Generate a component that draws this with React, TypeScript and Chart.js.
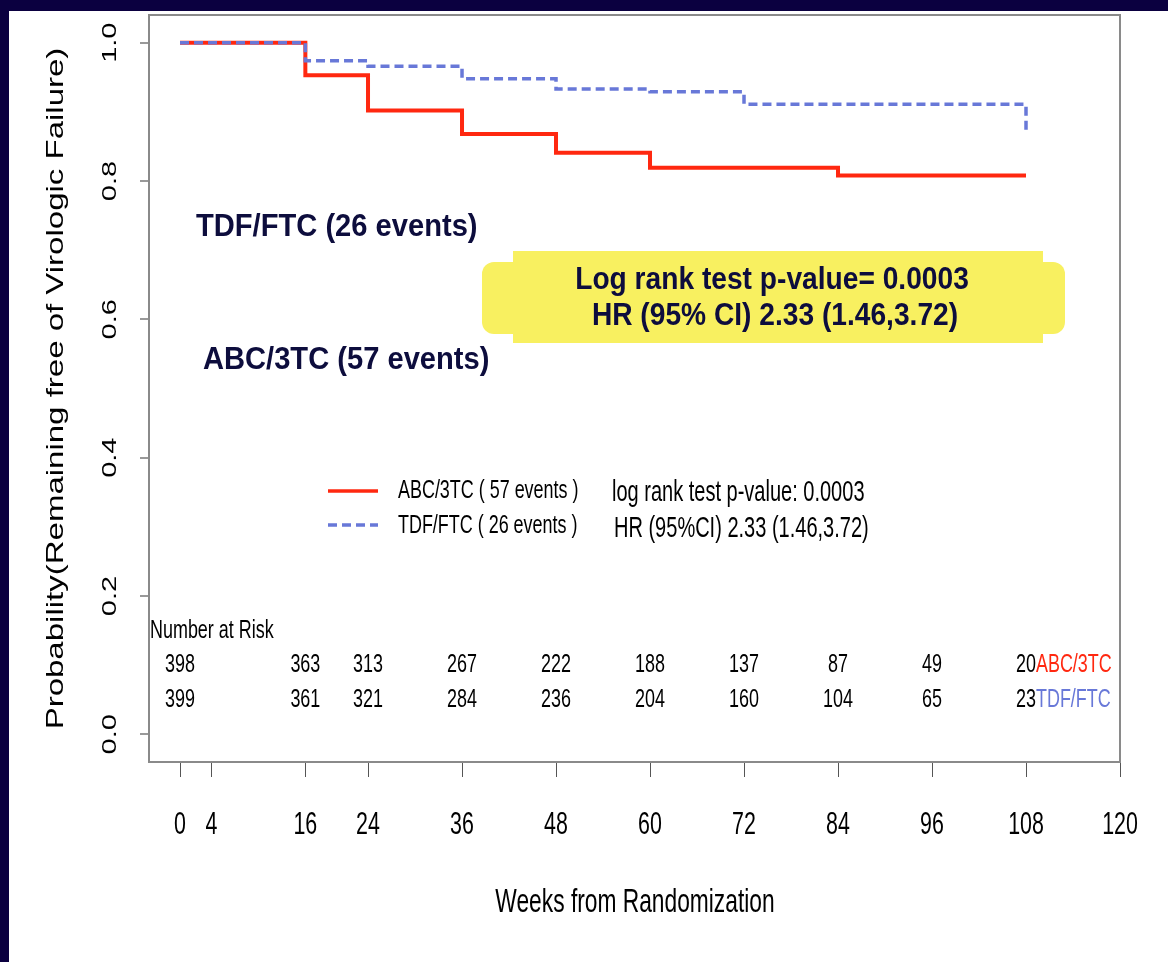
import React, { useEffect, useRef } from "react";
import { Chart, registerables } from "chart.js";
Chart.register(...registerables);

// ---- data ----
const X_TICKS = [0, 4, 16, 24, 36, 48, 60, 72, 84, 96, 108, 120];
const Y_TICKS = [0, 0.2, 0.4, 0.6, 0.8, 1.0];
const Y_TICK_LABELS = ["0.0", "0.2", "0.4", "0.6", "0.8", "1.0"];

const ABC_WEEKS = [0, 16, 24, 36, 48, 60, 84, 108];
const ABC_SURV = [1.0, 0.953, 0.902, 0.868, 0.841, 0.819, 0.808, 0.808];
const TDF_WEEKS = [0, 16, 24, 36, 48, 60, 72, 108];
const TDF_SURV = [1.0, 0.974, 0.966, 0.948, 0.933, 0.929, 0.911, 0.87];

const RISK_WEEKS = [0, 16, 24, 36, 48, 60, 72, 84, 96, 108];
const RISK_ABC = [398, 363, 313, 267, 222, 188, 137, 87, 49, 20];
const RISK_TDF = [399, 361, 321, 284, 236, 204, 160, 104, 65, 23];

const RED = "#ff2810";
const BLUE = "#6878d8";
const NAVY = "#0b0040";
const INK = "#0d0d3d";
const SX = 0.69;
const FONT = '"Liberation Sans", Arial, Helvetica, sans-serif';

type TOpt = { size: number; sx?: number; align?: CanvasTextAlign; color?: string; bold?: boolean; rot?: boolean };
function txt(ctx: CanvasRenderingContext2D, s: string, x: number, y: number, o: TOpt) {
  ctx.save();
  ctx.translate(x, y);
  ctx.scale(o.sx ?? 1, 1);
  if (o.rot) ctx.rotate(-Math.PI / 2);
  ctx.font = `${o.bold ? "bold " : ""}${o.size}px ${FONT}`;
  ctx.fillStyle = o.color ?? "#000";
  ctx.textAlign = o.align ?? "left";
  ctx.textBaseline = "middle";
  ctx.fillText(s, 0, 0);
  ctx.restore();
}
function measure(ctx: CanvasRenderingContext2D, s: string, size: number, bold = false) {
  ctx.save();
  ctx.font = `${bold ? "bold " : ""}${size}px ${FONT}`;
  const w = ctx.measureText(s).width;
  ctx.restore();
  return w;
}

const framePlugin = {
  id: "frame",
  beforeDraw(chart: any) {
    const ctx = chart.ctx as CanvasRenderingContext2D;
    ctx.save();
    ctx.fillStyle = NAVY;
    ctx.fillRect(0, 0, chart.width, chart.height);
    ctx.fillStyle = "#fff";
    ctx.fillRect(9, 11, chart.width - 9, chart.height - 11);
    ctx.restore();
  },
  afterDraw(chart: any) {
    const ctx = chart.ctx as CanvasRenderingContext2D;
    const xs = chart.scales.x;
    const ys = chart.scales.y;
    const a = chart.chartArea;

    // plot box
    ctx.save();
    ctx.strokeStyle = "#8a8a8a";
    ctx.lineWidth = 2;
    ctx.strokeRect(a.left, a.top, a.right - a.left, a.bottom - a.top);
    ctx.restore();

    // x tick labels
    X_TICKS.forEach((v) => txt(ctx, String(v), xs.getPixelForValue(v), 825, { size: 31, sx: SX, align: "center" }));
    txt(ctx, "Weeks from Randomization", 635, 903, { size: 33, sx: SX, align: "center" });

    // y tick labels (rotated)
    Y_TICKS.forEach((v, i) => txt(ctx, Y_TICK_LABELS[i], 110, ys.getPixelForValue(v), { size: 29, sx: SX, align: "center", rot: true }));
    txt(ctx, "Probability(Remaining free of Virologic Failure)", 56, (a.top + a.bottom) / 2, { size: 33, sx: 0.72, align: "center", rot: true });

    // number at risk
    txt(ctx, "Number at Risk", 150, ys.getPixelForValue(0.15), { size: 26, sx: SX });
    const yA = ys.getPixelForValue(0.1);
    const yT = ys.getPixelForValue(0.05);
    RISK_WEEKS.forEach((w, i) => {
      const px = xs.getPixelForValue(w);
      txt(ctx, String(RISK_ABC[i]), px, yA, { size: 26, sx: SX, align: "center" });
      txt(ctx, String(RISK_TDF[i]), px, yT, { size: 26, sx: SX, align: "center" });
    });
    const lastPx = xs.getPixelForValue(RISK_WEEKS[RISK_WEEKS.length - 1]);
    const wA = (measure(ctx, String(RISK_ABC[RISK_ABC.length - 1]), 26) * SX) / 2;
    const wT = (measure(ctx, String(RISK_TDF[RISK_TDF.length - 1]), 26) * SX) / 2;
    txt(ctx, "ABC/3TC", lastPx + wA, yA, { size: 26, sx: SX, color: RED });
    txt(ctx, "TDF/FTC", lastPx + wT, yT, { size: 26, sx: SX, color: BLUE });

    // legend
    ctx.save();
    ctx.lineWidth = 3.5;
    ctx.strokeStyle = RED;
    ctx.beginPath();
    ctx.moveTo(328, 491);
    ctx.lineTo(378, 491);
    ctx.stroke();
    ctx.strokeStyle = BLUE;
    ctx.setLineDash([9, 5]);
    ctx.beginPath();
    ctx.moveTo(328, 525);
    ctx.lineTo(378, 525);
    ctx.stroke();
    ctx.restore();
    txt(ctx, "ABC/3TC ( 57 events )", 398, 491, { size: 26, sx: SX });
    txt(ctx, "TDF/FTC ( 26 events )", 398, 526, { size: 26, sx: SX });
    txt(ctx, "log rank test p-value: 0.0003", 612, 493, { size: 29, sx: SX });
    txt(ctx, "HR (95%CI) 2.33 (1.46,3.72)", 614, 529, { size: 29, sx: SX });

    // overlay annotations
    txt(ctx, "TDF/FTC (26 events)", 196, 227, { size: 32, sx: 0.91, bold: true, color: INK });
    txt(ctx, "ABC/3TC (57 events)", 203, 360, { size: 32, sx: 0.91, bold: true, color: INK });

    ctx.save();
    ctx.fillStyle = "#f8f060";
    ctx.fillRect(513, 251, 1043 - 513, 343 - 251);
    ctx.beginPath();
    (ctx as any).roundRect(482, 262, 1065 - 482, 334 - 262, 12);
    ctx.fill();
    ctx.restore();
    txt(ctx, "Log rank test p-value= 0.0003", 772, 280, { size: 32, sx: 0.88, bold: true, color: INK, align: "center" });
    txt(ctx, "HR (95% CI) 2.33 (1.46,3.72)", 775, 316, { size: 32, sx: 0.88, bold: true, color: INK, align: "center" });
  },
};

export default function App() {
  const ref = useRef<HTMLCanvasElement>(null);
  useEffect(() => {
    document.body.style.margin = "0";
    const chart = new Chart(ref.current!, {
      type: "line",
      data: {
        datasets: [
          {
            label: "TDF/FTC",
            data: TDF_WEEKS.map((w, i) => ({ x: w, y: TDF_SURV[i] })),
            borderColor: BLUE,
            borderWidth: 3.5,
            borderDash: [9, 5],
            stepped: "before",
            pointRadius: 0,
            fill: false,
          },
          {
            label: "ABC/3TC",
            data: ABC_WEEKS.map((w, i) => ({ x: w, y: ABC_SURV[i] })),
            borderColor: RED,
            borderWidth: 4,
            stepped: "before",
            pointRadius: 0,
            fill: false,
          },
        ],
      },
      options: {
        animation: false,
        responsive: false,
        events: [],
        layout: { padding: { left: 0, right: 48, top: 15, bottom: 0 } },
        plugins: { legend: { display: false }, tooltip: { enabled: false } },
        scales: {
          x: {
            type: "linear",
            min: -3.96,
            max: 120,
            afterBuildTicks: (s: any) => {
              s.ticks = X_TICKS.map((v) => ({ value: v }));
            },
            afterFit: (s: any) => {
              s.height = 200;
            },
            ticks: { display: false },
            grid: { drawOnChartArea: false, drawTicks: true, tickLength: 15, color: "#555", lineWidth: 1 },
            border: { display: false },
          },
          y: {
            type: "linear",
            min: -0.04,
            max: 1.04,
            afterBuildTicks: (s: any) => {
              s.ticks = Y_TICKS.map((v) => ({ value: v }));
            },
            afterFit: (s: any) => {
              s.width = 149;
            },
            ticks: { display: false },
            grid: { drawOnChartArea: false, drawTicks: true, tickLength: 9, color: "#999", lineWidth: 2 },
            border: { display: false },
          },
        },
      },
      plugins: [framePlugin],
    });
    return () => chart.destroy();
  }, []);
  return <canvas ref={ref} width={1168} height={962} style={{ display: "block" }} />;
}
